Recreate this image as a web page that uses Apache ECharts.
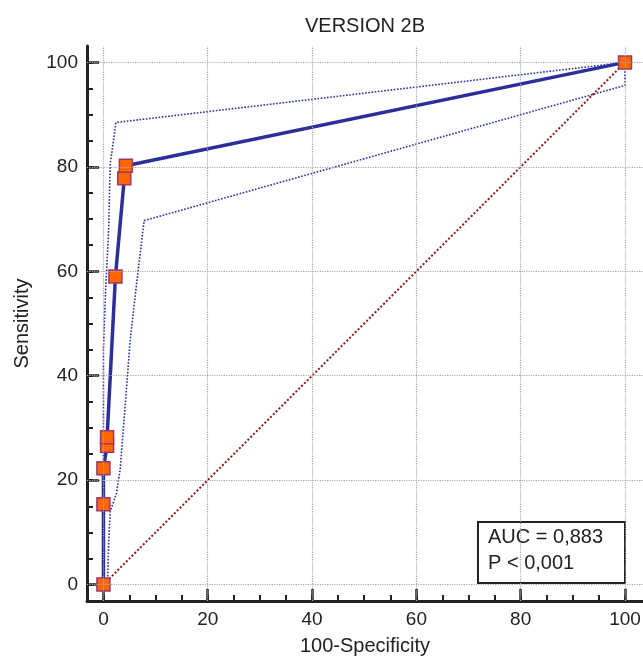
<!DOCTYPE html>
<html>
<head>
<meta charset="utf-8">
<title>VERSION 2B</title>
<script src="https://cdn.jsdelivr.net/npm/echarts@6/dist/echarts.min.js"></script>
<style>
  html, body { margin: 0; padding: 0; background: #fff; }
  #main { width: 643px; height: 656px; }
</style>
</head>
<body>
<div id="main"></div>
<script>
// ROC curve points (100-Specificity, Sensitivity)
var rocX = [0, 0, 0, 0.7, 0.7, 2.3, 4.0, 4.3, 100];
var rocY = [0, 15.4, 22.3, 26.6, 28.2, 59.0, 77.8, 80.2, 100];
// confidence bounds
var upperX = [0, 0, 0.4, 1.0, 1.3, 2.4, 100];
var upperY = [0, 45, 56, 68, 80.5, 88.5, 100];
var lowerX = [0, 0.8, 1.0, 1.3, 2.5, 3.2, 4.5, 5.1, 6.4, 7.8, 100, 100];
var lowerY = [0, 1, 8, 14, 17.5, 22, 38.5, 46.6, 58, 69.7, 95.6, 100];
// reference diagonal
var diagX = [0, 100];
var diagY = [0, 100];
// ticks
var majorTicks = [0, 20, 40, 60, 80, 100];
var minorTicks = [0, 5, 10, 15, 20, 25, 30, 35, 40, 45, 50, 55, 60, 65, 70, 75, 80, 85, 90, 95, 100];

var FONT = 'Liberation Sans, Arial, sans-serif';
var INK = '#222';

function pairs(xs, ys) {
  return xs.map(function (x, i) { return [x, ys[i]]; });
}

var gridLines = [];
majorTicks.forEach(function (v) {
  gridLines.push({ xAxis: v });
  gridLines.push({ yAxis: v });
});

function mainAxis(name, gap, min, max) {
  return {
    type: 'value', min: min, max: max,
    name: name, nameLocation: 'middle', nameGap: gap,
    nameTextStyle: { fontSize: 20, color: INK, fontFamily: FONT },
    axisLine: { show: true, onZero: false, lineStyle: { color: INK, width: 3 } },
    axisTick: { show: true, inside: true, length: 12, customValues: majorTicks, lineStyle: { color: INK, width: 2.5 } },
    axisLabel: { customValues: majorTicks, fontSize: 19, color: INK, fontFamily: FONT, margin: 9 },
    splitLine: { show: false }
  };
}
function minorAxis(pos, min, max) {
  return {
    type: 'value', min: min, max: max, position: pos, offset: 0,
    axisLine: { show: false, onZero: false },
    axisTick: { show: true, inside: true, length: 6, customValues: minorTicks, lineStyle: { color: INK, width: 2 } },
    axisLabel: { show: false },
    splitLine: { show: false }
  };
}

var xMain = mainAxis('100-Specificity', 35, -3.15, 103.45);
xMain.position = 'bottom';
var yMain = mainAxis('Sensitivity', 55, -3.14, 103.14);
yMain.position = 'left';
yMain.nameRotate = 90;

var chart = echarts.init(document.getElementById('main'));
chart.setOption({
  animation: false,
  backgroundColor: '#fff',
  title: {
    text: 'VERSION 2B', left: 360, top: 11, textAlign: 'center',
    textStyle: { fontSize: 20, fontWeight: 'normal', color: INK, fontFamily: FONT }
  },
  grid: { left: 87, right: 0, top: 46, bottom: 55, containLabel: false, outerBoundsMode: 'none' },
  xAxis: [xMain, minorAxis('bottom', -3.15, 103.45)],
  yAxis: [yMain, minorAxis('left', -3.14, 103.14)],
  series: [
    {
      type: 'line', data: [], z: 1, silent: true,
      markLine: {
        silent: true, symbol: 'none', label: { show: false },
        lineStyle: { color: '#a8a8a8', type: 'dotted', width: 1.2 },
        emphasis: { disabled: true },
        data: gridLines
      }
    },
    {
      type: 'line', data: pairs(diagX, diagY), showSymbol: false, z: 2,
      lineStyle: { color: '#8b1c1c', type: 'dotted', width: 2 }
    },
    {
      type: 'line', data: pairs(upperX, upperY), showSymbol: false, z: 3,
      lineStyle: { color: '#2b2f9c', type: 'dotted', width: 1.6 }
    },
    {
      type: 'line', data: pairs(lowerX, lowerY), showSymbol: false, z: 3,
      lineStyle: { color: '#2b2f9c', type: 'dotted', width: 1.6 }
    },
    {
      type: 'line', data: pairs(rocX, rocY), z: 4,
      symbol: 'rect', symbolSize: 13, showSymbol: true, showAllSymbol: true,
      lineStyle: { color: '#2b2f9c', width: 3.5 },
      itemStyle: { color: '#ff6600', borderColor: '#9b3a6a', borderWidth: 1.5 }
    }
  ],
  graphic: [
    {
      type: 'group', z: 100,
      children: [
        { type: 'rect', shape: { x: 478, y: 522, width: 147, height: 61 },
          style: { fill: '#fff', stroke: INK, lineWidth: 2 } },
        { type: 'text', x: 488, y: 537,
          style: { text: 'AUC = 0,883', fill: INK, font: '20px ' + FONT, verticalAlign: 'middle' } },
        { type: 'text', x: 488, y: 563,
          style: { text: 'P < 0,001', fill: INK, font: '20px ' + FONT, verticalAlign: 'middle' } }
      ]
    }
  ]
});
</script>
</body>
</html>
